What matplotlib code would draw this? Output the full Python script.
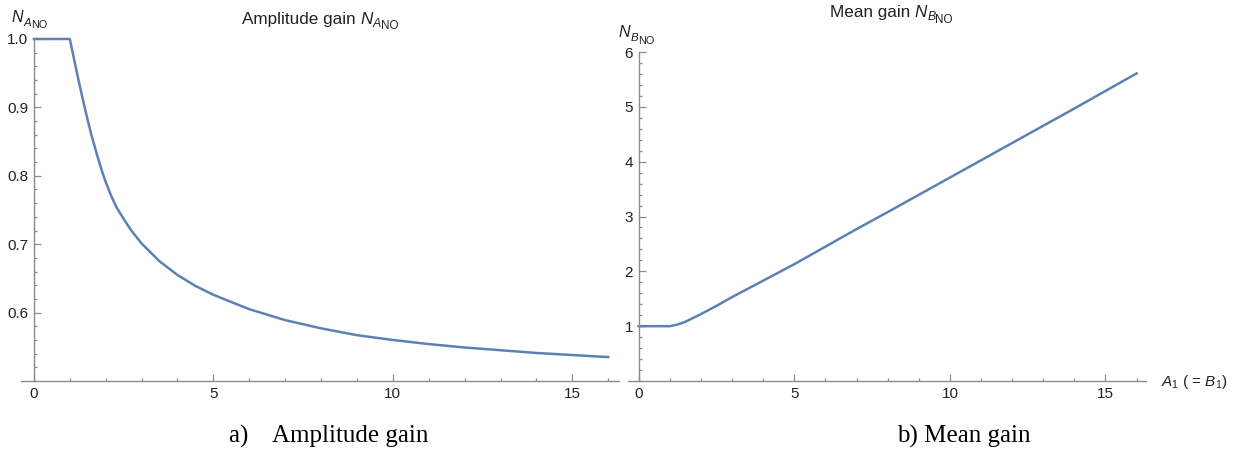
import matplotlib
matplotlib.use("Agg")
import matplotlib.pyplot as plt
from matplotlib.ticker import MultipleLocator

plt.rcParams['font.family'] = ['Liberation Sans', 'DejaVu Sans']
plt.rcParams['mathtext.fontset'] = 'custom'
plt.rcParams['mathtext.rm'] = 'Liberation Sans'
plt.rcParams['mathtext.it'] = 'Liberation Sans:italic'

# amplitude gain N_A
amp_x = [0, 1, 1.1, 1.25, 1.4, 1.5, 1.6, 1.75, 1.9, 2, 2.15, 2.3, 2.5, 2.7, 3,
         3.5, 4, 4.5, 5, 6, 7, 8, 9, 10, 11, 12, 13, 14, 15, 16]
amp_y = [1.0, 1.0, 0.975, 0.938, 0.903, 0.881, 0.860, 0.832, 0.806, 0.791,
         0.771, 0.754, 0.737, 0.721, 0.701, 0.675, 0.655, 0.639, 0.626, 0.605,
         0.589, 0.577, 0.567, 0.560, 0.554, 0.549, 0.545, 0.541, 0.538, 0.535]

# mean gain N_B
mean_x = [0, 1, 1.25, 1.5, 2, 2.5, 3, 4, 5, 6, 7, 8, 10, 12, 14, 16]
mean_y = [1.0, 1.0, 1.03, 1.08, 1.22, 1.37, 1.53, 1.83, 2.13, 2.45, 2.77, 3.08,
          3.71, 4.34, 4.97, 5.61]

line_col = '#5E81B5'
ax_col = '#8c8c8c'
txt_col = '#222222'

fig = plt.figure(figsize=(12.35, 4.55), dpi=100)


def style(ax, ymin, ymax, ymaj, ymin_step):
    ax.set_xlim(-0.35, 16.3)
    ax.set_ylim(ymin, ymax)
    for s in ['top', 'right']:
        ax.spines[s].set_visible(False)
    ax.spines['left'].set_position(('data', 0))
    for s in ['left', 'bottom']:
        ax.spines[s].set_color(ax_col)
        ax.spines[s].set_linewidth(1.0)
    ax.xaxis.set_major_locator(MultipleLocator(5))
    ax.xaxis.set_minor_locator(MultipleLocator(1))
    ax.yaxis.set_major_locator(MultipleLocator(ymaj))
    ax.yaxis.set_minor_locator(MultipleLocator(ymin_step))
    ax.tick_params(which='both', direction='in', color=ax_col, width=0.9,
                   labelsize=11, labelcolor=txt_col, pad=4)
    ax.tick_params(which='major', length=5)
    ax.tick_params(which='minor', length=2.5)
    ax.patch.set_visible(False)


def gain_label(ax, x, y, letter, prefix='', size=11.5):
    # N with subscript letter and a second subscript NO, Mathematica style
    if prefix:
        t = fig.text(x, y, prefix, fontsize=size, color=txt_col, va='center')
        t = ax.annotate('N', xy=(1, 0), xycoords=t, xytext=(0, 0),
                        textcoords='offset points', fontsize=size,
                        style='italic', color=txt_col, va='bottom',
                        annotation_clip=False)
    else:
        t = fig.text(x, y, 'N', fontsize=size, style='italic', color=txt_col,
                     va='center')
    t = ax.annotate(letter, xy=(1, 0), xycoords=t, xytext=(0, -2.2),
                    textcoords='offset points', fontsize=size * 0.72,
                    style='italic', color=txt_col, va='bottom',
                    annotation_clip=False)
    ax.annotate('NO', xy=(1, 0), xycoords=t, xytext=(0, -1.6),
                textcoords='offset points', fontsize=size * 0.68,
                color=txt_col, va='bottom', annotation_clip=False)


# a) amplitude gain
ax1 = fig.add_axes([0.0173, 0.1626, 0.4839, 0.7517])
ax1.plot(amp_x, amp_y, color=line_col, lw=1.8, clip_on=False)
style(ax1, 0.5, 1.0, 0.1, 0.02)
ax1.set_yticks([0.6, 0.7, 0.8, 0.9, 1.0])
ax1.set_yticklabels(['0.6', '0.7', '0.8', '0.9', '1.0'])
ax1.set_xticks([0, 5, 10, 15])
gain_label(ax1, 0.0095, 0.962, 'A')
gain_label(ax1, 0.196, 0.958, 'A', prefix='Amplitude gain ', size=12.3)

# b) mean gain
ax2 = fig.add_axes([0.5083, 0.1626, 0.4196, 0.7231])
ax2.plot(mean_x, mean_y, color=line_col, lw=1.8, clip_on=False)
style(ax2, 0.0, 6.0, 1, 0.2)
ax2.set_yticks([1, 2, 3, 4, 5, 6])
ax2.set_xticks([0, 5, 10, 15])
gain_label(ax2, 0.501, 0.928, 'B')
gain_label(ax2, 0.672, 0.972, 'B', prefix='Mean gain ', size=12.3)
fig.text(0.940, 0.160, r'$A_1$ ( = $B_1$)', fontsize=11, color=txt_col,
         ha='left', va='center')

# captions below the panels
fig.text(0.266, 0.040, 'a)    Amplitude gain', fontsize=18,
         family='Liberation Serif', ha='center', va='center')
fig.text(0.780, 0.040, 'b) Mean gain', fontsize=18,
         family='Liberation Serif', ha='center', va='center')

fig.savefig('out.png', dpi=100)
